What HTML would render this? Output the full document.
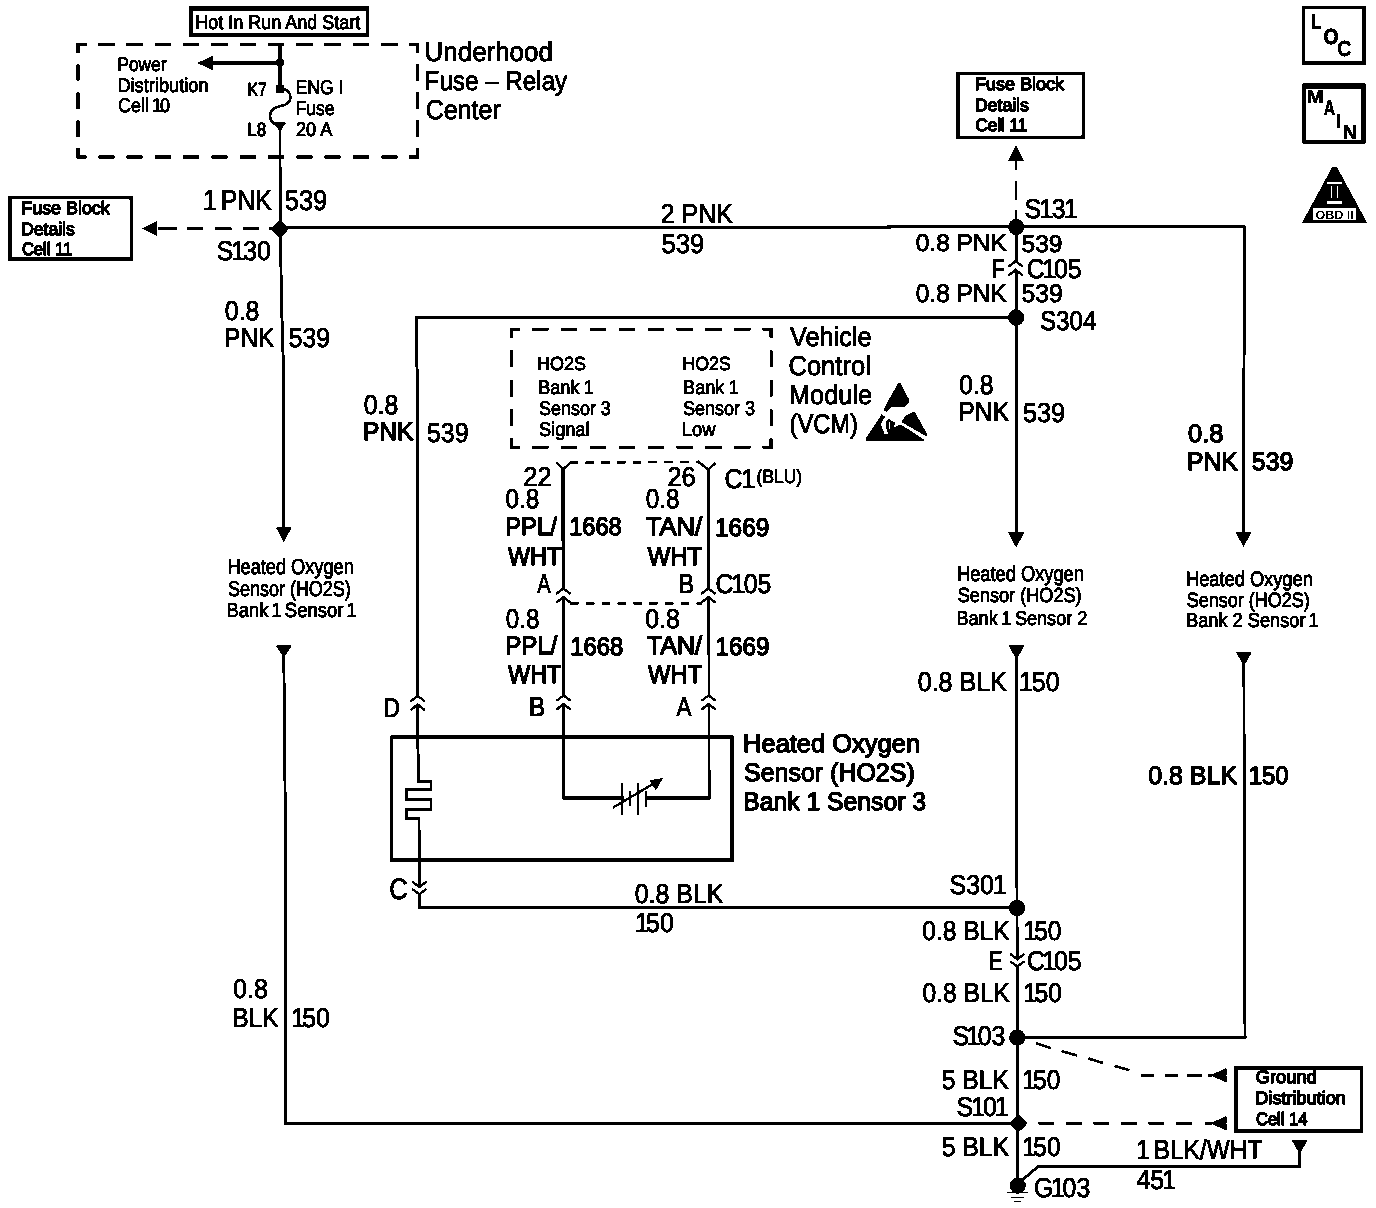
<!DOCTYPE html>
<html lang="en">
<head>
<meta charset="utf-8">
<title>Heated Oxygen Sensor (HO2S) Wiring Diagram</title>
<style>
html,body{margin:0;padding:0;background:#fff;}
body{width:1376px;height:1208px;overflow:hidden;}
svg{display:block;font-family:"Liberation Sans",sans-serif;text-rendering:geometricPrecision;}
svg path,svg rect{fill:none;stroke:#000;}
svg .f{fill:#000;stroke:none;}
svg .w{fill:#fff;stroke:none;}
svg text{fill:#000;stroke-linejoin:round;}
</style>
</head>
<body>
<svg width="1376" height="1208" viewBox="0 0 1376 1208">
<defs>
<filter id="bw" x="0" y="0" width="1376" height="1208" filterUnits="userSpaceOnUse" color-interpolation-filters="sRGB">
<feColorMatrix type="matrix" values="0 0 0 0 0  0 0 0 0 0  0 0 0 0 0  -1 0 0 1 0"/>
<feComponentTransfer><feFuncA type="discrete" tableValues="0 0 0 0 0 1 1 1 1 1"/></feComponentTransfer>
</filter>
</defs>
<rect x="0" y="0" width="1376" height="1208" class="w"/>
<g filter="url(#bw)">
<path class="f" fill-rule="evenodd" d="M189,5.8 H369 V36.7 H189 Z M192.9,10.8 V33.2 H365.6 V10.8 Z"/>
<rect x="9.85" y="197.65" width="121.5" height="61.5" stroke-width="3.3"/>
<rect x="957.9" y="73.6" width="125.5" height="63.6" stroke-width="3.2"/>
<rect x="1235.75" y="1067.75" width="125.8" height="63.2" stroke-width="3.5"/>
<path class="f" fill-rule="evenodd" d="M1302.1,5.8 H1365.7 V64.7 H1302.1 Z M1305.2,9.3 V61 H1361.9 V9.3 Z"/>
<path class="f" fill-rule="evenodd" d="M1302.1,83.6 H1365.7 V143.4 H1302.1 Z M1305.8,88.4 V140 H1361.4 V88.4 Z"/>
<path class="f" fill-rule="evenodd" d="M390.2,735.6 H733.7 V862 H390.2 Z M393.1,738.9 V858.5 H730.3 V738.9 Z"/>
<path d="M78,44.4 L417.6,44.4" stroke-width="3.2" stroke-dasharray="16.5 11.800" stroke-dashoffset="8.25"/>
<path d="M78,157 L417.6,157" stroke-width="3.2" stroke-dasharray="16.5 11.800" stroke-dashoffset="8.25"/>
<path d="M78,44.4 L78,157" stroke-width="3.2" stroke-dasharray="16.5 11.650" stroke-dashoffset="8.25"/>
<path d="M417.6,44.4 L417.6,157" stroke-width="3.2" stroke-dasharray="16.5 11.650" stroke-dashoffset="8.25"/>
<path d="M85.2,44.4 L78,44.4 L78,51.6" stroke-width="3.2" stroke-linecap="square"/>
<path d="M410.4,44.4 L417.6,44.4 L417.6,51.6" stroke-width="3.2" stroke-linecap="square"/>
<path d="M85.2,157 L78,157 L78,149.8" stroke-width="3.2" stroke-linecap="square"/>
<path d="M410.4,157 L417.6,157 L417.6,149.8" stroke-width="3.2" stroke-linecap="square"/>
<path d="M511.5,329.2 L771.2,329.2" stroke-width="3.0" stroke-dasharray="16.5 12.356" stroke-dashoffset="8.25"/>
<path d="M511.5,447.2 L771.2,447.2" stroke-width="3.0" stroke-dasharray="16.5 12.356" stroke-dashoffset="8.25"/>
<path d="M511.5,329.2 L511.5,447.2" stroke-width="3.0" stroke-dasharray="16.5 13.000" stroke-dashoffset="8.25"/>
<path d="M771.2,329.2 L771.2,447.2" stroke-width="3.0" stroke-dasharray="16.5 13.000" stroke-dashoffset="8.25"/>
<path d="M518.7,329.2 L511.5,329.2 L511.5,336.4" stroke-width="3.0" stroke-linecap="square"/>
<path d="M764,329.2 L771.2,329.2 L771.2,336.4" stroke-width="3.0" stroke-linecap="square"/>
<path d="M518.7,447.2 L511.5,447.2 L511.5,440" stroke-width="3.0" stroke-linecap="square"/>
<path d="M764,447.2 L771.2,447.2 L771.2,440" stroke-width="3.0" stroke-linecap="square"/>
<path d="M280,127 L280,160 L280.5,229 L281.3,296 L283.8,380 L283.8,529" stroke-width="2.9" />
<path d="M280,44 L280,89" stroke-width="3.8" />
<path d="M280.5,62.8 L210,62.8" stroke-width="3.8" />
<polygon points="197.2,63 212.8,55.8 212.8,70.2" class="f" />
<circle cx="280" cy="62.8" r="4.2" class="f"/>
<rect x="275.6" y="84.4" width="8.8" height="8.6" rx="2.5" class="f"/>
<path d="M280,88.5 C286.5,88.5 290.4,92 290.4,97.5 C290.4,103 286,105 280.5,106 C274,107.2 270,111 270,116.3 C270,121 273.5,124.5 279,125.5" stroke-width="2.6"/>
<polygon points="272.8,122.6 286.2,122.6 280,131.4" class="f" />
<path d="M158,228.6 L177,228.6" stroke-width="2.8" />
<path d="M187,228.6 L203.5,228.6" stroke-width="2.8" />
<path d="M215.3,228.6 L231.6,228.6" stroke-width="2.8" />
<path d="M242.5,228.6 L259.5,228.6" stroke-width="2.8" />
<path d="M269,228.6 L280,228.6" stroke-width="2.8" />
<polygon points="142,228.5 157,221 157,236" class="f" />
<rect x="-6.9" y="-6.9" width="13.8" height="13.8" rx="4.2" class="f" transform="translate(279.8,229) rotate(45)"/>
<polygon points="276,527.5 291.6,527.5 283.8,542.5" class="f" />
<path d="M280,228 L650,227.5 L1016,226.8 L1244.6,226.5" stroke-width="2.9" />
<path d="M1244.4,225.4 L1243.5,533" stroke-width="2.9" />
<polygon points="1235.5,532 1251.5,532 1243.5,547" class="f" />
<polygon points="1008,160.8 1024,160.8 1016,145" class="f" />
<path d="M1016,160 L1016,170" stroke-width="2.8" />
<path d="M1016,181 L1016,200" stroke-width="2.8" />
<path d="M1016,210 L1016,226" stroke-width="2.8" />
<circle cx="1016.2" cy="227" r="8.1" class="f"/>
<path d="M1016.1,227 L1016.1,533" stroke-width="2.9" />
<path d="M1015.7,261.4 L1015.7,269.4" stroke-width="5" style="stroke:#fff"/>
<path d="M1008.4,266.7 L1015.7,261.3 L1023,266.7" stroke-width="2.4" stroke-linejoin="miter"/>
<path d="M1008.4,275.6 L1015.7,269.8 L1023,275.6" stroke-width="2.4" stroke-linejoin="miter"/>
<circle cx="1016.1" cy="317.6" r="8.1" class="f"/>
<polygon points="1008,532 1024.4,532 1016.2,547.8" class="f" />
<path d="M1016,317.2 L414.7,317.4" stroke-width="2.9" />
<path d="M416.2,316 L416.2,354 L417.6,378 L417.7,737 L418.6,781.2 L431,781.2 L431,789.6 L406.2,789.6 L406.2,799.6 L431,799.6 L431,809.6 L406.6,809.6 L406.6,818.4 L419,818.4 L419.4,907.4" stroke-width="2.9" stroke-linejoin="miter"/>
<path d="M417.7,696.1 L417.7,704.1" stroke-width="5" style="stroke:#fff"/>
<path d="M410.4,701.4 L417.7,696 L425,701.4" stroke-width="2.4" stroke-linejoin="miter"/>
<path d="M410.4,710.3 L417.7,704.5 L425,710.3" stroke-width="2.4" stroke-linejoin="miter"/>
<path d="M419.3,886.9 L419.3,894" stroke-width="5" style="stroke:#fff"/>
<path d="M412,881.5 L419.3,887 L426.6,881.5" stroke-width="2.4" stroke-linejoin="miter"/>
<path d="M412,888.9 L419.3,894.3 L426.6,888.9" stroke-width="2.4" stroke-linejoin="miter"/>
<path d="M563.2,468 L563.55,640 L563.9,798" stroke-width="3.1" />
<path d="M563.2,468 L563.3,589" stroke-width="3.3" />
<path d="M563.4,588.7 L563.4,596.7" stroke-width="5" style="stroke:#fff"/>
<path d="M556.1,594 L563.4,588.6 L570.7,594" stroke-width="2.4" stroke-linejoin="miter"/>
<path d="M556.1,602.9 L563.4,597.1 L570.7,602.9" stroke-width="2.4" stroke-linejoin="miter"/>
<path d="M563.6,695.6 L563.6,703.6" stroke-width="5" style="stroke:#fff"/>
<path d="M556.3,700.9 L563.6,695.5 L570.9,700.9" stroke-width="2.4" stroke-linejoin="miter"/>
<path d="M556.3,709.8 L563.6,704 L570.9,709.8" stroke-width="2.4" stroke-linejoin="miter"/>
<path d="M708.2,468 L708.75,640 L709.3,798" stroke-width="2.6" />
<path d="M708.2,468 L708.3,589" stroke-width="3.3" />
<path d="M708.4,588.7 L708.4,596.7" stroke-width="5" style="stroke:#fff"/>
<path d="M701.1,594 L708.4,588.6 L715.7,594" stroke-width="2.4" stroke-linejoin="miter"/>
<path d="M701.1,602.9 L708.4,597.1 L715.7,602.9" stroke-width="2.4" stroke-linejoin="miter"/>
<path d="M708.6,695.6 L708.6,703.6" stroke-width="5" style="stroke:#fff"/>
<path d="M701.3,700.9 L708.6,695.5 L715.9,700.9" stroke-width="2.4" stroke-linejoin="miter"/>
<path d="M701.3,709.8 L708.6,704 L715.9,709.8" stroke-width="2.4" stroke-linejoin="miter"/>
<path d="M556.2,462.4 L563.2,469.4 L570.6,462.4" stroke-width="2.4" />
<path d="M697.6,461.2 L708.2,469.5 L715.6,463" stroke-width="2.4" />
<path d="M569.5,462.8 L697,461.7" stroke-width="2.4" stroke-dasharray="8.8 7" />
<path d="M570,603.4 L702,603.4" stroke-width="2.4" stroke-dasharray="8.8 7" />
<path d="M563.9,798 L622,798" stroke-width="2.9" stroke-linecap="square"/>
<path d="M647,798 L709.3,798" stroke-width="2.9" stroke-linecap="square"/>
<path d="M622.2,783.4 L622.2,814.8" stroke-width="2.4" />
<path d="M630,791.4 L630,806" stroke-width="2.4" />
<path d="M638.2,783.4 L638.2,814.8" stroke-width="2.4" />
<path d="M646.3,791.4 L646.3,806.8" stroke-width="2.4" />
<path d="M612.7,807.8 L656,782.2" stroke-width="2.4" />
<polygon points="663,778 649.5,780.2 655.8,790.6" class="f" />
<polygon points="275.8,645.5 291.8,645.5 283.8,658" class="f" />
<path d="M283.8,656 L285.7,862 L285.8,1123.3" stroke-width="2.9" />
<path d="M284.3,1123.3 L1018,1123.3" stroke-width="3.0" />
<polygon points="1008.5,645.4 1024.5,645.4 1016.5,659.4" class="f" />
<path d="M1016.5,657 L1017,908 L1017.6,1123 L1017.8,1186" stroke-width="2.9" />
<path d="M419.4,907.6 L1017,907.8" stroke-width="2.9" stroke-linecap="square"/>
<circle cx="1017" cy="908" r="8.1" class="f"/>
<path d="M1017.3,959.1 L1017.3,966.2" stroke-width="5" style="stroke:#fff"/>
<path d="M1010,953.7 L1017.3,959.2 L1024.6,953.7" stroke-width="2.4" stroke-linejoin="miter"/>
<path d="M1010,961.1 L1017.3,966.5 L1024.6,961.1" stroke-width="2.4" stroke-linejoin="miter"/>
<circle cx="1017.2" cy="1037.6" r="8.1" class="f"/>
<path d="M1017,1037.5 L1245,1037.4" stroke-width="3.0" stroke-linecap="square"/>
<polygon points="1235.9,652.3 1251.9,652.3 1243.9,666" class="f" />
<path d="M1243.9,664 L1244.2,800 L1245,1037.4" stroke-width="2.9" />
<rect x="-6.6" y="-6.6" width="13.2" height="13.2" rx="2.6" class="f" transform="translate(1018.4,1123.3) rotate(45)"/>
<circle cx="1017.8" cy="1185.6" r="8" class="f"/>
<path d="M1006.8,1192.6 L1028.2,1192.6" stroke-width="1.5" />
<path d="M1011,1197.3 L1024.2,1197.3" stroke-width="1.5" />
<path d="M1014,1201.7 L1020.8,1201.7" stroke-width="1.5" />
<path d="M1020,1182 L1038.2,1166.5 L1299.6,1166.5 L1299.6,1150" stroke-width="2.9" stroke-linejoin="miter"/>
<polygon points="1291.8,1140.5 1307.4,1140.5 1299.6,1154" class="f" />
<path d="M1035.8,1043 L1050.8,1048" stroke-width="2.6" />
<path d="M1061.5,1051 L1077,1055.5" stroke-width="2.6" />
<path d="M1088.3,1058.5 L1103.3,1063" stroke-width="2.6" />
<path d="M1114.5,1066 L1129.5,1070.3" stroke-width="2.6" />
<path d="M1140.8,1075.3 L1154.5,1075.3" stroke-width="2.8" />
<path d="M1164.5,1075.3 L1178.3,1075.3" stroke-width="2.8" />
<path d="M1187,1075.3 L1202,1075.3" stroke-width="2.8" />
<path d="M1208,1075.3 L1212,1075.3" stroke-width="2.8" />
<polygon points="1210,1075.3 1226.5,1068.1 1226.5,1082.5" class="f" />
<path d="M1038.3,1123.2 L1054.5,1123.2" stroke-width="2.8" />
<path d="M1065.8,1123.2 L1082,1123.2" stroke-width="2.8" />
<path d="M1093.3,1123.2 L1109.5,1123.2" stroke-width="2.8" />
<path d="M1120.8,1123.2 L1137,1123.2" stroke-width="2.8" />
<path d="M1148.3,1123.2 L1164.5,1123.2" stroke-width="2.8" />
<path d="M1175.8,1123.2 L1192,1123.2" stroke-width="2.8" />
<path d="M1204.5,1123.2 L1212,1123.2" stroke-width="2.8" />
<polygon points="1210,1123.2 1226.5,1116 1226.5,1130.4" class="f" />
<polygon points="1332.4,166.8 1336.8,166.8 1367.2,222.9 1301.9,222.9" class="f" />
<rect x="1313" y="208.1" width="43.2" height="12.3" class="w"/>
<rect x="1327" y="181.8" width="15" height="2" class="w"/>
<rect x="1327" y="201" width="15" height="2.6" class="w"/>
<rect x="1330.8" y="186" width="1.4" height="12.4" class="w"/>
<rect x="1336.8" y="186" width="1.6" height="12.4" class="w"/>
<text transform="translate(1315.54,218.9) scale(1.0432,1)" font-size="12.00" font-weight="bold">OBD II</text>
<polygon points="898.267,383.11 900.597,383.11 909.046,399.497 909.046,402.047 904.457,406.781 891.347,406.999 887.342,411.661 883.117,410.422 888.216,400.59" class="f" />
<polygon points="913.562,412.098 915.018,412.243 927.036,434.093 927.036,436.642 901.18,422.076 905.696,415.521" class="f" />
<polygon points="881.661,414.064 885.011,416.759 880.932,424.042 884.428,434.093 888.216,434.093 885.885,427.538 886.468,421.347 888.944,418.944 894.771,422.44 894.261,427.684 898.267,425.062 902.054,425.353 924.122,439.774 924.122,440.794 866.074,440.794 866.074,438.099 880.204,416.613" class="f" />
<path d="M889.527,422.44 L889.527,428.995" stroke="#fff" stroke-width="1" style="stroke:#fff"/>
<text transform="translate(195.22,29) scale(0.9100,1)" font-size="19.79" stroke="#000" stroke-width="0.9">Hot In Run And Start</text>
<text transform="translate(117.48,71) scale(0.8735,1)" font-size="19.79" stroke="#000" stroke-width="0.9">Power</text>
<text transform="translate(117.40,92) scale(0.9209,1)" font-size="19.79" stroke="#000" stroke-width="0.9">Distribution</text>
<text transform="translate(117.99,112) scale(0.9085,1)" font-size="19.79" dx="0 0 0 0 0 -2.18 -2.18" stroke="#000" stroke-width="0.9">Cell 10</text>
<text transform="translate(247.39,96) scale(0.8340,1)" font-size="19.13" stroke="#000" stroke-width="0.9">K7</text>
<text transform="translate(247.30,136) scale(0.8901,1)" font-size="19.13" stroke="#000" stroke-width="0.9">L8</text>
<text transform="translate(295.45,94) scale(0.8902,1)" font-size="19.79" stroke="#000" stroke-width="0.9">ENG I</text>
<text transform="translate(295.46,115) scale(0.8867,1)" font-size="19.79" stroke="#000" stroke-width="0.9">Fuse</text>
<text transform="translate(295.99,136) scale(0.9147,1)" font-size="19.79" stroke="#000" stroke-width="0.9">20 A</text>
<text transform="translate(424.60,61) scale(0.9498,1)" font-size="27.29" stroke="#000" stroke-width="0.9">Underhood</text>
<text transform="translate(424.61,90) scale(0.8871,1)" font-size="27.29" stroke="#000" stroke-width="0.9">Fuse – Relay</text>
<text transform="translate(425.63,119) scale(0.9166,1)" font-size="27.29" stroke="#000" stroke-width="0.9">Center</text>
<text transform="translate(21.28,214) scale(1.0004,1)" font-size="17.89" stroke="#000" stroke-width="1.4">Fuse Block</text>
<text transform="translate(21.32,235) scale(0.9757,1)" font-size="17.89" stroke="#000" stroke-width="1.4">Details</text>
<text transform="translate(21.91,255) scale(0.9245,1)" font-size="17.89" stroke="#000" stroke-width="1.4">Cell 11</text>
<text transform="translate(974.97,90) scale(1.0061,1)" font-size="17.89" stroke="#000" stroke-width="1.4">Fuse Block</text>
<text transform="translate(975.00,111) scale(0.9852,1)" font-size="17.89" stroke="#000" stroke-width="1.4">Details</text>
<text transform="translate(975.59,131) scale(0.9492,1)" font-size="17.89" stroke="#000" stroke-width="1.4">Cell 11</text>
<text transform="translate(202.80,210) scale(0.8736,1)" font-size="28.49" dx="0 -3.26 0 0 0" stroke="#000" stroke-width="0.9">1 PNK</text>
<text transform="translate(284.68,210) scale(0.8969,1)" font-size="28.49" stroke="#000" stroke-width="0.9">539</text>
<text transform="translate(216.87,260) scale(0.9100,1)" font-size="27.29" dx="0 -2.25 -2.25 0" stroke="#000" stroke-width="0.9">S130</text>
<text transform="translate(224.83,320) scale(0.9107,1)" font-size="27.29" stroke="#000" stroke-width="0.9">0.8</text>
<text transform="translate(224.09,347) scale(0.8979,1)" font-size="27.29" stroke="#000" stroke-width="0.9">PNK</text>
<text transform="translate(288.71,347) scale(0.9038,1)" font-size="27.29" stroke="#000" stroke-width="0.9">539</text>
<text transform="translate(660.74,223) scale(0.9145,1)" font-size="27.29" stroke="#000" stroke-width="0.9">2 PNK</text>
<text transform="translate(661.47,253) scale(0.9409,1)" font-size="27.29" stroke="#000" stroke-width="0.9">539</text>
<text transform="translate(1024.57,218) scale(0.9100,1)" font-size="27.29" dx="0 -1.73 -1.73 -1.73" stroke="#000" stroke-width="0.9">S131</text>
<text transform="translate(915.74,251) scale(1.0142,1)" font-size="24.13" stroke="#000" stroke-width="0.9">0.8 PNK</text>
<text transform="translate(1021.52,252) scale(1.0171,1)" font-size="24.13" stroke="#000" stroke-width="0.9">539</text>
<text transform="translate(991.55,278) scale(0.7797,1)" font-size="27.29" stroke="#000" stroke-width="0.9">F</text>
<text transform="translate(1026.74,278) scale(0.9100,1)" font-size="27.29" dx="0 -2.51 -2.51 0" stroke="#000" stroke-width="0.9">C105</text>
<text transform="translate(915.74,302) scale(0.9566,1)" font-size="25.58" stroke="#000" stroke-width="0.9">0.8 PNK</text>
<text transform="translate(1021.51,302) scale(0.9667,1)" font-size="25.58" stroke="#000" stroke-width="0.9">539</text>
<text transform="translate(1039.90,330) scale(0.8882,1)" font-size="27.29" stroke="#000" stroke-width="0.9">S304</text>
<text transform="translate(363.73,414) scale(0.9079,1)" font-size="27.29" stroke="#000" stroke-width="0.9">0.8</text>
<text transform="translate(362.94,440) scale(0.9671,1)" font-size="25.39" stroke="#000" stroke-width="1.4">PNK</text>
<text transform="translate(426.90,442) scale(0.9154,1)" font-size="27.29" stroke="#000" stroke-width="0.9">539</text>
<text transform="translate(537.03,370) scale(0.9499,1)" font-size="18.90" stroke="#000" stroke-width="0.9">HO2S</text>
<text transform="translate(538.32,394) scale(0.9100,1)" font-size="19.79" dx="0 0 0 0 0 -0.78" stroke="#000" stroke-width="0.9">Bank 1</text>
<text transform="translate(538.98,415) scale(0.9076,1)" font-size="19.79" stroke="#000" stroke-width="0.9">Sensor 3</text>
<text transform="translate(538.97,436) scale(0.9186,1)" font-size="19.79" stroke="#000" stroke-width="0.9">Signal</text>
<text transform="translate(682.34,370) scale(0.9437,1)" font-size="18.90" stroke="#000" stroke-width="0.9">HO2S</text>
<text transform="translate(683.12,394) scale(0.9100,1)" font-size="19.79" dx="0 0 0 0 0 -0.45" stroke="#000" stroke-width="0.9">Bank 1</text>
<text transform="translate(682.98,415) scale(0.9089,1)" font-size="19.79" stroke="#000" stroke-width="0.9">Sensor 3</text>
<text transform="translate(681.79,436) scale(0.9270,1)" font-size="19.79" stroke="#000" stroke-width="0.9">Low</text>
<text transform="translate(789.99,346) scale(0.9265,1)" font-size="27.29" stroke="#000" stroke-width="0.9">Vehicle</text>
<text transform="translate(788.40,375) scale(0.9379,1)" font-size="27.29" stroke="#000" stroke-width="0.9">Control</text>
<text transform="translate(788.92,404) scale(0.9296,1)" font-size="27.29" stroke="#000" stroke-width="0.9">Module</text>
<text transform="translate(789.53,433) scale(0.8683,1)" font-size="27.29" stroke="#000" stroke-width="0.9">(VCM)</text>
<text transform="translate(959.34,394) scale(0.9023,1)" font-size="27.29" stroke="#000" stroke-width="0.9">0.8</text>
<text transform="translate(958.27,421) scale(0.9072,1)" font-size="27.29" stroke="#000" stroke-width="0.9">PNK</text>
<text transform="translate(1022.89,422) scale(0.9247,1)" font-size="27.29" stroke="#000" stroke-width="0.9">539</text>
<text transform="translate(1188.06,442) scale(0.9999,1)" font-size="25.39" stroke="#000" stroke-width="1.4">0.8</text>
<text transform="translate(1187.03,470) scale(0.9691,1)" font-size="25.39" stroke="#000" stroke-width="1.4">PNK</text>
<text transform="translate(1251.85,470) scale(0.9789,1)" font-size="25.39" stroke="#000" stroke-width="1.4">539</text>
<text transform="translate(523.32,486) scale(0.9344,1)" font-size="27.29" stroke="#000" stroke-width="0.9">22</text>
<text transform="translate(667.42,486) scale(0.9322,1)" font-size="27.29" stroke="#000" stroke-width="0.9">26</text>
<text transform="translate(724.44,488) scale(0.9100,1)" font-size="27.29" dx="0 -1.02" stroke="#000" stroke-width="0.9">C1</text>
<text transform="translate(756.62,483) scale(0.9028,1)" font-size="19.24" stroke="#000" stroke-width="0.9">(BLU)</text>
<text transform="translate(505.45,508) scale(0.8939,1)" font-size="27.29" stroke="#000" stroke-width="0.9">0.8</text>
<text transform="translate(505.20,535) scale(0.9384,1)" font-size="25.39" stroke="#000" stroke-width="1.4">PPL/</text>
<text transform="translate(569.15,535) scale(0.9299,1)" font-size="25.39" stroke="#000" stroke-width="1.4">1668</text>
<text transform="translate(508.05,565) scale(0.9191,1)" font-size="25.39" stroke="#000" stroke-width="1.4">WHT</text>
<text transform="translate(645.75,508) scale(0.8911,1)" font-size="27.29" stroke="#000" stroke-width="0.9">0.8</text>
<text transform="translate(645.77,535) scale(1.0093,1)" font-size="25.39" stroke="#000" stroke-width="1.4">TAN/</text>
<text transform="translate(715.10,536) scale(0.9578,1)" font-size="25.39" stroke="#000" stroke-width="1.4">1669</text>
<text transform="translate(647.64,565) scale(0.9436,1)" font-size="25.39" stroke="#000" stroke-width="1.4">WHT</text>
<text transform="translate(537.36,593) scale(0.7349,1)" font-size="27.29" stroke="#000" stroke-width="0.9">A</text>
<text transform="translate(678.13,593) scale(0.8812,1)" font-size="27.29" stroke="#000" stroke-width="0.9">B</text>
<text transform="translate(715.44,593) scale(0.9100,1)" font-size="27.29" dx="0 -1.91 -1.91 0" stroke="#000" stroke-width="0.9">C105</text>
<text transform="translate(505.76,628) scale(0.8855,1)" font-size="27.29" stroke="#000" stroke-width="0.9">0.8</text>
<text transform="translate(505.18,654) scale(0.9459,1)" font-size="25.39" stroke="#000" stroke-width="1.4">PPL/</text>
<text transform="translate(570.34,655) scale(0.9373,1)" font-size="25.39" stroke="#000" stroke-width="1.4">1668</text>
<text transform="translate(508.05,683) scale(0.9226,1)" font-size="25.39" stroke="#000" stroke-width="1.4">WHT</text>
<text transform="translate(645.13,628) scale(0.9135,1)" font-size="27.29" stroke="#000" stroke-width="0.9">0.8</text>
<text transform="translate(646.68,654) scale(0.9913,1)" font-size="25.39" stroke="#000" stroke-width="1.4">TAN/</text>
<text transform="translate(715.50,655) scale(0.9578,1)" font-size="25.39" stroke="#000" stroke-width="1.4">1669</text>
<text transform="translate(648.05,683) scale(0.9366,1)" font-size="25.39" stroke="#000" stroke-width="1.4">WHT</text>
<text transform="translate(382.96,717) scale(0.8661,1)" font-size="27.29" stroke="#000" stroke-width="0.9">D</text>
<text transform="translate(528.87,716) scale(0.9088,1)" font-size="27.29" stroke="#000" stroke-width="0.9">B</text>
<text transform="translate(676.46,716) scale(0.8178,1)" font-size="27.29" stroke="#000" stroke-width="0.9">A</text>
<text transform="translate(389.20,899) scale(0.8652,1)" font-size="29.57" stroke="#000" stroke-width="0.9">C</text>
<text transform="translate(227.41,574) scale(0.8394,1)" font-size="21.68" stroke="#000" stroke-width="0.9">Heated Oxygen</text>
<text transform="translate(228.08,596) scale(0.8366,1)" font-size="21.46" stroke="#000" stroke-width="0.9">Sensor (HO2S)</text>
<text transform="translate(226.39,617) scale(0.9021,1)" font-size="20.46" dx="0 0 0 0 0 -2.27 -2.27 0 0 0 0 0 0 0 -2.27" stroke="#000" stroke-width="0.9">Bank 1 Sensor 1</text>
<text transform="translate(957.00,581) scale(0.8471,1)" font-size="21.57" stroke="#000" stroke-width="0.9">Heated Oxygen</text>
<text transform="translate(957.68,602) scale(0.8870,1)" font-size="20.46" stroke="#000" stroke-width="0.9">Sensor (HO2S)</text>
<text transform="translate(956.41,625) scale(0.9100,1)" font-size="19.90" dx="0 0 0 0 0 -1.61 -1.61 0 0 0 0 0 0 0 0" stroke="#000" stroke-width="0.9">Bank 1 Sensor 2</text>
<text transform="translate(1186.00,586) scale(0.8727,1)" font-size="20.91" stroke="#000" stroke-width="0.9">Heated Oxygen</text>
<text transform="translate(1186.68,607) scale(0.8710,1)" font-size="20.68" stroke="#000" stroke-width="0.9">Sensor (HO2S)</text>
<text transform="translate(1186.01,627) scale(0.9049,1)" font-size="20.13" dx="0 0 0 0 0 0 0 0 0 0 0 0 0 0 -2.23" stroke="#000" stroke-width="0.9">Bank 2 Sensor 1</text>
<text transform="translate(743.06,752) scale(1.0040,1)" font-size="25.39" stroke="#000" stroke-width="1.4">Heated Oxygen</text>
<text transform="translate(744.02,781) scale(0.9840,1)" font-size="25.39" stroke="#000" stroke-width="1.4">Sensor (HO2S)</text>
<text transform="translate(743.32,810) scale(0.9738,1)" font-size="25.39" stroke="#000" stroke-width="1.4">Bank 1 Sensor 3</text>
<text transform="translate(917.72,691) scale(0.9171,1)" font-size="27.29" stroke="#000" stroke-width="0.9">0.8 BLK</text>
<text transform="translate(1019.01,691) scale(0.9100,1)" font-size="27.29" dx="0 -1.07 0" stroke="#000" stroke-width="0.9">150</text>
<text transform="translate(1148.17,784) scale(0.9846,1)" font-size="25.39" stroke="#000" stroke-width="1.4">0.8 BLK</text>
<text transform="translate(1248.73,784) scale(0.9407,1)" font-size="25.39" stroke="#000" stroke-width="1.4">150</text>
<text transform="translate(634.73,903) scale(0.9129,1)" font-size="27.29" stroke="#000" stroke-width="0.9">0.8 BLK</text>
<text transform="translate(635.01,932) scale(0.9090,1)" font-size="27.29" dx="0 -3.01 0" stroke="#000" stroke-width="0.9">150</text>
<text transform="translate(949.57,894) scale(0.9100,1)" font-size="27.29" dx="0 0 0 -1.00" stroke="#000" stroke-width="0.9">S301</text>
<text transform="translate(922.24,940) scale(0.8994,1)" font-size="27.29" stroke="#000" stroke-width="0.9">0.8 BLK</text>
<text transform="translate(1023.23,940) scale(0.8996,1)" font-size="27.29" dx="0 -3.04 0" stroke="#000" stroke-width="0.9">150</text>
<text transform="translate(989.02,970) scale(0.7504,1)" font-size="27.29" stroke="#000" stroke-width="0.9">E</text>
<text transform="translate(1026.94,970) scale(0.9100,1)" font-size="27.29" dx="0 -2.62 -2.62 0" stroke="#000" stroke-width="0.9">C105</text>
<text transform="translate(922.54,1002) scale(0.9004,1)" font-size="27.29" stroke="#000" stroke-width="0.9">0.8 BLK</text>
<text transform="translate(1023.42,1002) scale(0.9043,1)" font-size="27.29" dx="0 -3.02 0" stroke="#000" stroke-width="0.9">150</text>
<text transform="translate(952.57,1045) scale(0.9100,1)" font-size="27.29" dx="0 -2.85 -2.85 0" stroke="#000" stroke-width="0.9">S103</text>
<text transform="translate(941.71,1089) scale(0.9048,1)" font-size="27.29" stroke="#000" stroke-width="0.9">5 BLK</text>
<text transform="translate(1022.24,1089) scale(0.8948,1)" font-size="27.29" dx="0 -3.05 0" stroke="#000" stroke-width="0.9">150</text>
<text transform="translate(956.57,1116) scale(0.9100,1)" font-size="27.29" dx="0 -2.17 -2.17 -2.17" stroke="#000" stroke-width="0.9">S101</text>
<text transform="translate(941.71,1156) scale(0.9075,1)" font-size="27.29" stroke="#000" stroke-width="0.9">5 BLK</text>
<text transform="translate(1022.44,1156) scale(0.8948,1)" font-size="27.29" dx="0 -3.05 0" stroke="#000" stroke-width="0.9">150</text>
<text transform="translate(1033.65,1197) scale(0.9100,1)" font-size="27.29" dx="0 -2.32 -2.32 0" stroke="#000" stroke-width="0.9">G103</text>
<text transform="translate(1136.24,1159) scale(0.8937,1)" font-size="27.29" dx="0 -3.06 0 0 0 0 0 0 0" stroke="#000" stroke-width="0.9">1 BLK/WHT</text>
<text transform="translate(1136.53,1189) scale(0.9100,1)" font-size="27.29" dx="0 0 -2.10" stroke="#000" stroke-width="0.9">451</text>
<text transform="translate(233.02,998) scale(0.9191,1)" font-size="27.29" stroke="#000" stroke-width="0.9">0.8</text>
<text transform="translate(232.29,1027) scale(0.8972,1)" font-size="27.29" stroke="#000" stroke-width="0.9">BLK</text>
<text transform="translate(291.21,1027) scale(0.9090,1)" font-size="27.29" dx="0 -3.01 0" stroke="#000" stroke-width="0.9">150</text>
<text transform="translate(1255.83,1083) scale(1.0203,1)" font-size="17.89" stroke="#000" stroke-width="1.4">Ground</text>
<text transform="translate(1255.26,1104) scale(1.0141,1)" font-size="17.89" stroke="#000" stroke-width="1.4">Distribution</text>
<text transform="translate(1255.91,1125) scale(0.9269,1)" font-size="17.89" stroke="#000" stroke-width="1.4">Cell 14</text>
<text font-weight="bold" stroke="#000" stroke-width="0.5"><tspan x="1311.24" y="28.80" font-size="21.6" textLength="10.12" lengthAdjust="spacingAndGlyphs">L</tspan><tspan x="1323.56" y="43.50" font-size="21.9" textLength="15.00" lengthAdjust="spacingAndGlyphs">O</tspan><tspan x="1337.35" y="55.50" font-size="21.9" textLength="14.03" lengthAdjust="spacingAndGlyphs">C</tspan></text>
<text font-weight="bold" stroke="#000" stroke-width="0.5"><tspan x="1306.89" y="102.80" font-size="18.6" textLength="16.92" lengthAdjust="spacingAndGlyphs">M</tspan><tspan x="1323.76" y="114.80" font-size="21.4" textLength="11.30" lengthAdjust="spacingAndGlyphs">A</tspan><tspan x="1336.24" y="127.90" font-size="20.3" textLength="4.63" lengthAdjust="spacingAndGlyphs">I</tspan><tspan x="1342.83" y="138.80" font-size="20" textLength="14.25" lengthAdjust="spacingAndGlyphs">N</tspan></text>
</g>
</svg>
</body>
</html>
